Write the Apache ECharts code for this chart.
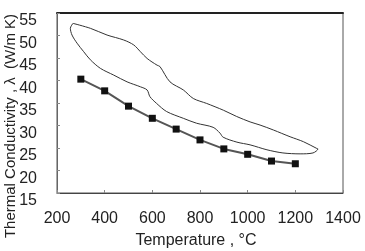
<!DOCTYPE html>
<html>
<head>
<meta charset="utf-8">
<script src="https://cdn.jsdelivr.net/npm/echarts@6/dist/echarts.min.js"></script>
<style>
  html, body { margin: 0; padding: 0; background: #fff; }
  #chart { width: 365px; height: 251px; }
</style>
</head>
<body>
<div id="chart"></div>
<script>
// measured points (squares)
const measTemp = [300, 400, 500, 600, 700, 800, 900, 1000, 1100, 1200]
const measCond = [40.3, 37.7, 34.3, 31.6, 29.2, 26.8, 24.8, 23.6, 22.1, 21.5]

// scatter band outline, traced clockwise from the top-left corner
const loopTemp = [267, 340, 410, 480, 522, 550, 578, 620, 632, 674, 730, 772, 828, 898, 954, 1010, 1052, 1108, 1178, 1234, 1290, 1295,
  1274, 1220, 1148, 1081, 1010, 955, 897, 884, 855, 786, 730, 660, 618, 590, 578, 550, 494, 438, 382, 340, 312, 284, 263, 256, 267]
const loopCond = [52.7, 51.6, 50.1, 49.0, 47.9, 46.4, 44.9, 43.4, 43.1, 39.7, 37.9, 36.0, 34.9, 33.4, 32.0, 30.8, 30.1, 29.0, 27.5, 26.4, 24.9, 24.8,
  23.9, 23.7, 23.9, 24.6, 25.7, 26.3, 27.4, 28.3, 29.6, 30.5, 31.6, 33.1, 34.9, 36.4, 37.9, 38.6, 39.7, 41.2, 42.7, 44.6, 46.4, 48.3, 50.1, 51.6, 52.7]

const xTicks = [200, 1400, 200]   // min, max, interval
const yTicks = [15, 55, 5]

const zip = (a, b) => a.map((v, i) => [v, b[i]])
const font = 'Liberation Sans'

const chart = echarts.init(document.getElementById('chart'))
chart.setOption({
  animation: false,
  grid: {
    left: 57, right: 22, top: 13, bottom: 58,
    outerBoundsMode: 'none',
    show: true, borderColor: '#555', borderWidth: 1
  },
  // y title sits lower than the plot centre in the original, so place it by hand
  graphic: [{
    type: 'text',
    x: 11, y: 126,
    rotation: Math.PI / 2,
    style: {
      text: 'Thermal Conductivity , λ  (W/m K)',
      fontFamily: font, fontSize: 15, fill: '#222',
      align: 'center', verticalAlign: 'middle'
    }
  }],
  xAxis: [{
    type: 'value',
    min: xTicks[0], max: xTicks[1], interval: xTicks[2],
    name: 'Temperature , °C',
    nameLocation: 'middle',
    nameGap: 40,
    nameTextStyle: { fontFamily: font, fontSize: 16, color: '#222', padding: [0, 8, 0, 0] },
    axisLine: { lineStyle: { color: '#444', width: 1 } },
    axisTick: { inside: true, length: 3, lineStyle: { color: '#888' } },
    axisLabel: { fontFamily: font, fontSize: 16, color: '#222', margin: 18, formatter: v => String(v) },
    splitLine: { show: false }
  }, {
    // darker top edge of the frame
    type: 'value', position: 'top',
    min: xTicks[0], max: xTicks[1],
    axisLine: { show: true, lineStyle: { color: '#222', width: 2 } },
    axisTick: { show: false }, axisLabel: { show: false }, splitLine: { show: false }
  }],
  yAxis: {
    type: 'value',
    min: yTicks[0], max: yTicks[1], interval: yTicks[2],
    axisLine: { show: true, lineStyle: { color: '#666', width: 1 } },
    axisTick: { inside: true, length: 3, lineStyle: { color: '#888' } },
    axisLabel: { fontFamily: font, fontSize: 16, color: '#222', margin: 20, verticalAlign: 'top' },
    splitLine: { show: false }
  },
  series: [
    {
      type: 'line',
      data: zip(loopTemp, loopCond),
      showSymbol: false,
      smooth: 0.3,
      lineStyle: { color: '#333', width: 1 }
    },
    {
      type: 'line',
      data: zip(measTemp, measCond),
      symbol: 'rect',
      symbolSize: 7,
      itemStyle: { color: '#111' },
      lineStyle: { color: '#555', width: 2 }
    }
  ]
})
</script>
</body>
</html>
